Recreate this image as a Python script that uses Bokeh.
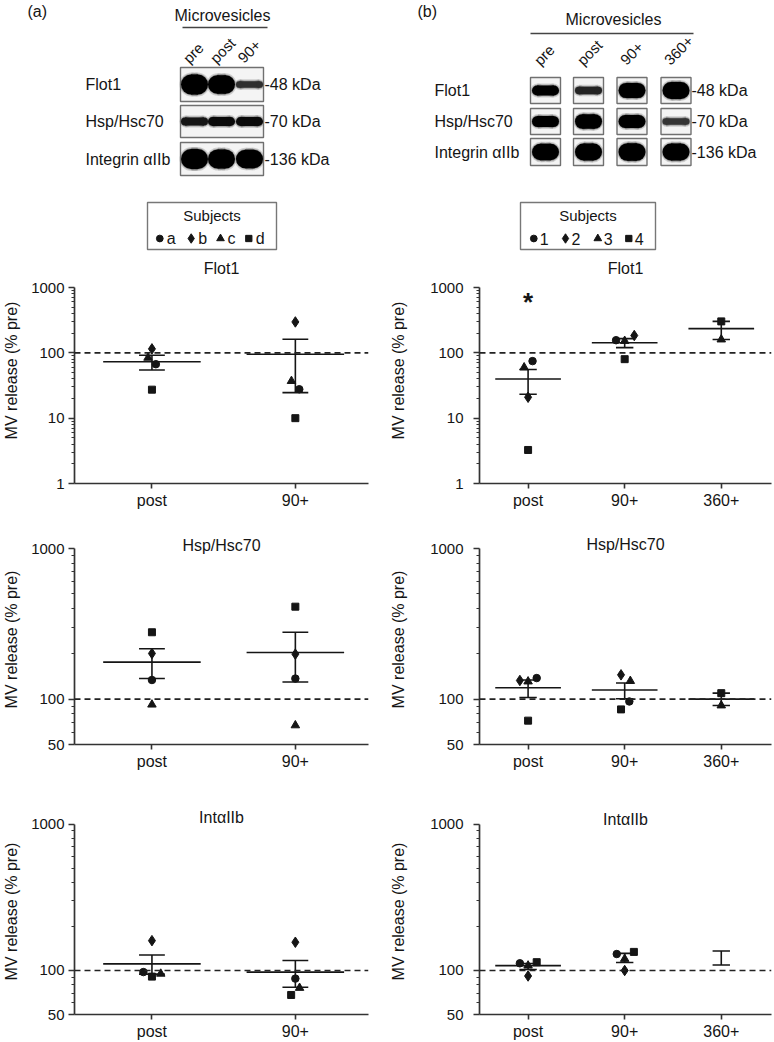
import math
from bokeh.plotting import figure
from bokeh.layouts import column, row
from bokeh.models import Range1d, FixedTicker, PrintfTickFormatter, Span, Label
from bokeh.core.properties import value
from bokeh.embed import file_html
from bokeh.resources import INLINE

FONT = "Liberation Sans"
INK = "#151515"

# ---------------- data ----------------
markers = ["circle", "diamond", "triangle", "square"]
a_subjects = ["a", "b", "c", "d"]
b_subjects = ["1", "2", "3", "4"]

a_lanes = ["pre", "post", "90+"]
b_lanes = ["pre", "post", "90+", "360+"]
proteins = ["Flot1", "Hsp/Hsc70", "Integrin \u03b1IIb"]
kda = ["-48 kDa", "-70 kDa", "-136 kDa"]
# relative band signal per protein (rows) x lane (cols)
a_band_signal = [[1.0, 0.9, 0.22], [0.3, 0.34, 0.34], [1.0, 0.95, 0.92]]
b_band_signal = [[0.42, 0.26, 0.72, 0.82], [0.47, 0.68, 0.58, 0.2], [0.8, 0.82, 0.85, 0.82]]

a_cats = ["post", "90+"]
b_cats = ["post", "90+", "360+"]

# panel (a) values, subjects a, b, c, d
a_flot1_post = [67, 115, 84, 27.3]
a_flot1_90 = [27.7, 297, 37, 10]
a_flot1_mean = [73, 95]
a_flot1_low = [54.5, 24.6]
a_flot1_high = [92, 161]

a_hsp_post = [134, 201, 92, 278]
a_hsp_90 = [137, 199, 67, 411]
a_hsp_mean = [176, 204]
a_hsp_low = [137, 130]
a_hsp_high = [216, 278]

a_int_post = [97.5, 160, 95, 90.8]
a_int_90 = [88, 156, 76, 68]
a_int_mean = [111, 97.5]
a_int_low = [94.5, 76.8]
a_int_high = [127.6, 117]

# panel (b) values, subjects 1, 2, 3, 4
b_flot1_post = [74.7, 20.9, 59.8, 3.26]
b_flot1_90 = [156, 184, 152, 80]
b_flot1_360 = [None, None, 160, 303]
b_flot1_mean = [39.7, 143, 235]
b_flot1_low = [23.2, 120, 160]
b_flot1_high = [55.7, 165, 303]
b_flot1_sig = ["*", "", ""]

b_hsp_post = [138, 133, 131, 72]
b_hsp_90 = [96.5, 145, 132, 85.5]
b_hsp_360 = [None, None, 90.8, 109.6]
b_hsp_mean = [119, 115, 100]
b_hsp_low = [102.6, 100.6, 90.8]
b_hsp_high = [134, 128, 109.6]

b_int_post = [112, 91.7, 108, 114]
b_int_90 = [129.6, 100, 120, 134]
b_int_360 = [None, None, None, None]
b_int_mean = [108, None, None]
b_int_low = [101.5, 113.5, 109]
b_int_high = [111.5, 131, 136]

# ---------------- styling ----------------
MSIZE = {"circle": 7.5, "diamond": 10.5, "triangle": 8.5, "square": 7}
# horizontal scatter of overlapping points (pixels), per category x subject
JIT = {
    "a_flot1": [[4, 0, -4, 0], [4, 0, -4, 0]],
    "a_hsp": [[0, 0, 0, 0], [0, 0, 0, 0]],
    "a_int": [[-8.7, 0, 9, 0], [0, 0, 4.3, -4.3]],
    "b_flot1": [[4.5, 0, -4, 0], [-8.7, 9.7, 0, 0], [0, 0, 0, 0]],
    "b_hsp": [[8.7, -8.3, 0, 0], [4.7, -3.7, 5.7, -3.7], [0, 0, 0, 0]],
    "b_int": [[-8.3, 0, 0, 8.7], [-8, 0, 0, 9.3], [0, 0, 0, 0]],
}
COLW = 387


def bare(width, height, xr, yr):
    p = figure(width=width, height=height, x_range=Range1d(*xr), y_range=Range1d(*yr),
               output_backend="svg", toolbar_location=None,
               x_axis_location=None, y_axis_location=None, min_border=0)
    p.grid.visible = False
    p.outline_line_color = None
    return p


def txt(p, x, y, t, size="16px", align="left", base="middle", angle=0.0):
    p.text(x=x, y=y, text=t, angle=angle, text_font=value(FONT), text_font_size=size,
           text_color=INK, text_align=align, text_baseline=base)


def band_color(s):
    g = int(255 * (1 - min(1.0, 0.55 + 1.2 * s)))
    return "#%02x%02x%02x" % (g, g, g)


def stadium(p, xs, ys, ws, hs, color, alpha=1.0):
    """rounded band: middle rectangle plus two round ends"""
    mid_w = [max(w - h, 0.5) for w, h in zip(ws, hs)]
    endw = [min(h, w) for w, h in zip(ws, hs)]
    off = [max(w - h, 0) / 2 for w, h in zip(ws, hs)]
    p.rect(x=xs, y=ys, width=mid_w, height=hs, fill_color=color, fill_alpha=alpha, line_color=None)
    p.ellipse(x=[x - o for x, o in zip(xs, off)], y=ys, width=endw, height=hs,
              fill_color=color, fill_alpha=alpha, line_color=None)
    p.ellipse(x=[x + o for x, o in zip(xs, off)], y=ys, width=endw, height=hs,
              fill_color=color, fill_alpha=alpha, line_color=None)


def blot_fig(side):
    if side == "a":
        xr = (0, COLW)
        lanes, sig = a_lanes, a_band_signal
        lane_x = [194, 221, 249]
        bw = 27
        row_y = [84, 121, 158.5]
        row_h = [34, 32, 33]
        tag, tag_x = "(a)", 27
        title_xy = (222, 15)
        uline = (182, 267, 27)
        lab_x, kda_x = 85, 264
        lane_lab_y = 60
        boxes = [((180 + 263) / 2, ry, 263 - 180, rh) for ry, rh in zip(row_y, row_h)]
    else:
        xr = (COLW, 2 * COLW)
        lanes, sig = b_lanes, b_band_signal
        lane_x = [545, 588, 631.5, 675.5]
        bw = 27
        row_y = [90, 121, 151.5]
        row_h = [26, 26, 27]
        tag, tag_x = "(b)", 417
        title_xy = (613, 19)
        uline = (530, 693, 33)
        lab_x, kda_x = 434, 691
        lane_lab_y = 62
        boxes = [(lx, ry, 30, rh) for ry, rh in zip(row_y, row_h) for lx in lane_x]
    p = bare(COLW, 180, xr, (180, 0))
    txt(p, [tag_x], [2], [tag], base="top")
    txt(p, [title_xy[0]], [title_xy[1]], ["Microvesicles"], align="center")
    p.segment(x0=[uline[0]], y0=[uline[2]], x1=[uline[1]], y1=[uline[2]], line_color="#444", line_width=1.5)
    txt(p, [lx - 9 for lx in lane_x], [lane_lab_y] * len(lanes), lanes, size="15px",
        angle=math.pi / 4, base="middle")
    bx, by, bwid, bht = zip(*boxes)
    p.rect(x=list(bx), y=list(by), width=list(bwid), height=list(bht), fill_color="#f4f4f4",
           line_color="#707070", line_width=1.4)
    hx, hy, hw, hh, hc = [], [], [], [], []
    for r, ry in enumerate(row_y):
        for c, lx in enumerate(lane_x):
            s = sig[r][c]
            h = 3 + 17 * s
            hx.append(lx); hy.append(ry); hw.append(bw); hh.append(h); hc.append(band_color(s))
    stadium(p, hx, hy, [w + 3 for w in hw], [h + 4 for h in hh], "#777777", alpha=0.3)
    stadium(p, hx, hy, [w + 1 for w in hw], [h + 1.5 for h in hh], "#555555", alpha=0.45)
    for i in range(len(hx)):
        stadium(p, [hx[i]], [hy[i]], [hw[i]], [hh[i]], hc[i])
    txt(p, [lab_x] * 3, row_y, proteins)
    txt(p, [kda_x] * 3, row_y, kda)
    return p


def legend_fig(side):
    if side == "a":
        xr = (0, COLW)
        box = (147, 276, 202, 249)
        item_x = [159.3, 190.7, 220, 248.3]
        dx = 7
        labels = a_subjects
    else:
        xr = (COLW, 2 * COLW)
        box = (520, 655, 202, 249)
        item_x = [533.3, 565, 597.3, 628.3]
        dx = 6
        labels = b_subjects
    p = bare(COLW, 76, xr, (256, 180))
    p.rect(x=[(box[0] + box[1]) / 2], y=[(box[2] + box[3]) / 2], width=[box[1] - box[0]],
           height=[box[3] - box[2]], fill_color=None, line_color="#777", line_width=1.4)
    txt(p, [(box[0] + box[1]) / 2], [215], ["Subjects"], size="15px", align="center")
    for i, m in enumerate(markers):
        p.scatter([item_x[i]], [238], marker=m, size=MSIZE[m] * 0.9, color=INK)
    txt(p, [x + dx for x in item_x], [238] * len(labels), labels)
    return p


def panel(side, key, cats, series, mean, low, high, ymin, title, height, mt, core_h, extra, mb,
          title_dy, sig=None):
    if side == "a":
        ml, mr, xr = 68, 19, (0.46, 2.51)
        lab_std, ax_std = 4, 8
    else:
        ml, mr, xr = 89, 3, (0.497, 3.52)
        lab_std, ax_std = 10, 20
    fw = COLW - ml - mr
    ppu = fw / (xr[1] - xr[0])
    ppd = core_h / math.log10(1000 / ymin)
    ytop = 1000 * 10 ** (extra / ppd)
    p = figure(width=COLW, height=height, x_range=Range1d(*xr), y_range=Range1d(ymin, ytop),
               y_axis_type="log", output_backend="svg", toolbar_location=None,
               min_border_left=ml, min_border_right=mr, min_border_top=mt, min_border_bottom=mb)
    p.grid.visible = False
    p.outline_line_color = None
    for ax in (p.xaxis[0], p.yaxis[0]):
        ax.axis_line_color = "#333"
        ax.axis_line_width = 1.7
        ax.major_tick_line_color = "#333"
        ax.major_tick_line_width = 1.6
        ax.minor_tick_line_color = "#333"
        ax.minor_tick_line_width = 1.2
        ax.major_label_text_font = FONT
        ax.major_label_text_color = INK
        ax.major_tick_in = 0
        ax.minor_tick_in = 0
    if ymin == 1:
        majors = [1, 10, 100, 1000]
        minors = [k * 10 ** d for d in range(0, 3) for k in range(2, 10)]
    else:
        majors = [50, 100, 1000]
        minors = [60, 70, 80, 90] + [k * 100 for k in range(2, 10)]
    p.yaxis.bounds = (ymin, 1000)
    p.yaxis.ticker = FixedTicker(ticks=majors, minor_ticks=minors)
    p.yaxis.formatter = PrintfTickFormatter(format="%d")
    p.yaxis.major_label_text_font_size = "15px"
    p.yaxis.major_tick_out = 6
    p.yaxis.minor_tick_out = 3
    p.yaxis.major_label_standoff = lab_std
    p.yaxis.axis_label = "MV release (% pre)"
    p.yaxis.axis_label_text_font = FONT
    p.yaxis.axis_label_text_font_size = "16px"
    p.yaxis.axis_label_text_font_style = "normal"
    p.yaxis.axis_label_text_color = INK
    p.yaxis.axis_label_standoff = ax_std
    p.xaxis.ticker = FixedTicker(ticks=list(range(1, len(cats) + 1)))
    p.xaxis.major_label_overrides = {i + 1: c for i, c in enumerate(cats)}
    p.xaxis.major_label_text_font_size = "16px"
    p.xaxis.major_tick_out = 5
    p.xaxis.minor_tick_line_color = None
    p.xaxis.major_label_standoff = 3

    p.add_layout(Span(location=100, dimension="width", line_color="#222", line_width=1.6, line_dash="6 4"))

    xs = list(range(1, len(cats) + 1))
    cap, mw = 0.09, 0.34
    p.segment(x0=xs, y0=low, x1=xs, y1=high, line_color=INK, line_width=1.6)
    p.segment(x0=[x - cap for x in xs], y0=low, x1=[x + cap for x in xs], y1=low, line_color=INK, line_width=1.6)
    p.segment(x0=[x - cap for x in xs], y0=high, x1=[x + cap for x in xs], y1=high, line_color=INK, line_width=1.6)
    mx = [x for x, m in zip(xs, mean) if m is not None]
    my = [m for m in mean if m is not None]
    p.segment(x0=[x - mw for x in mx], y0=my, x1=[x + mw for x in mx], y1=my, line_color=INK, line_width=1.6)

    jit = JIT[key]
    for si, m in enumerate(markers):
        px, py = [], []
        for ci, vals in enumerate(series):
            v = vals[si]
            if v is None:
                continue
            px.append(ci + 1 + jit[ci][si] / ppu)
            py.append(v)
        if px:
            p.scatter(px, py, marker=m, size=MSIZE[m], color=INK)

    p.add_layout(Label(x=(xr[0] + xr[1]) / 2, y=1000, y_offset=title_dy, text=title,
                       text_font=FONT, text_font_size="16px", text_color=INK,
                       text_align="center", text_baseline="middle"))
    if sig:
        for ci, s in enumerate(sig):
            if s:
                p.add_layout(Label(x=ci + 1, y=1000, y_offset=1, text=s, text_font=FONT,
                                   text_font_size="26px", text_font_style="bold", text_color=INK,
                                   text_align="center", text_baseline="top"))
    return p


# rows: height, min_border_top, core frame height (1000 -> ymin), extra frame above 1000, bottom border
R1 = dict(height=258, mt=1, core_h=196, extra=30, mb=31)
R2 = dict(height=276, mt=20, core_h=196, extra=14, mb=46)
R3 = dict(height=252, mt=18, core_h=193, extra=16, mb=25)

f1a = panel("a", "a_flot1", a_cats, [a_flot1_post, a_flot1_90], a_flot1_mean, a_flot1_low, a_flot1_high,
            1, "Flot1", title_dy=19, **R1)
f1b = panel("b", "b_flot1", b_cats, [b_flot1_post, b_flot1_90, b_flot1_360], b_flot1_mean, b_flot1_low,
            b_flot1_high, 1, "Flot1", title_dy=19, sig=b_flot1_sig, **R1)
h_a = panel("a", "a_hsp", a_cats, [a_hsp_post, a_hsp_90], a_hsp_mean, a_hsp_low, a_hsp_high,
            50, "Hsp/Hsc70", title_dy=3, **R2)
h_b = panel("b", "b_hsp", b_cats, [b_hsp_post, b_hsp_90, b_hsp_360], b_hsp_mean, b_hsp_low, b_hsp_high,
            50, "Hsp/Hsc70", title_dy=4, **R2)
i_a = panel("a", "a_int", a_cats, [a_int_post, a_int_90], a_int_mean, a_int_low, a_int_high,
            50, "Int\u03b1IIb", title_dy=7, **R3)
i_b = panel("b", "b_int", b_cats, [b_int_post, b_int_90, b_int_360], b_int_mean, b_int_low, b_int_high,
            50, "Int\u03b1IIb", title_dy=5, **R3)

layout = column(
    row(blot_fig("a"), blot_fig("b")),
    row(legend_fig("a"), legend_fig("b")),
    row(f1a, f1b),
    row(h_a, h_b),
    row(i_a, i_b),
)

open("out.html", "w").write(file_html(layout, INLINE))
